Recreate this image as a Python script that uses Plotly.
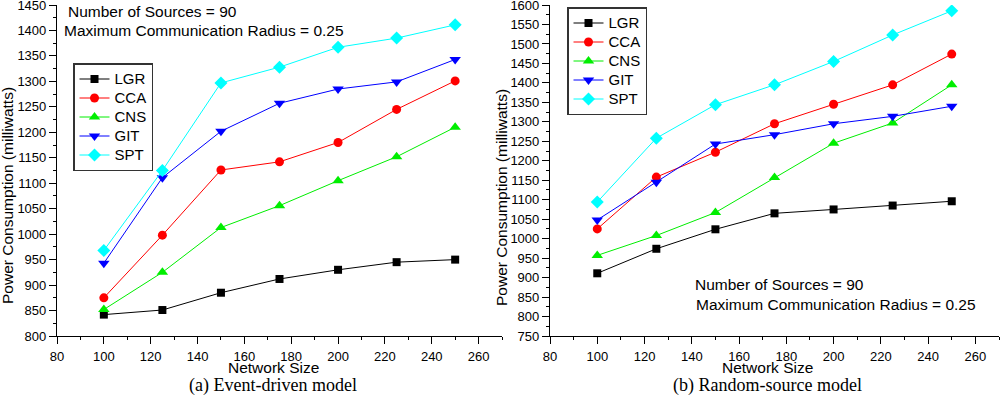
import plotly.graph_objects as go

network_size = [100, 125, 150, 175, 200, 225, 250]
series_names = ["LGR", "CCA", "CNS", "GIT", "SPT"]

# (a) Event-driven model
event_lgr = [842, 851, 885, 912, 930, 945, 950]
event_cca = [875, 998, 1126, 1142, 1180, 1245, 1301]
event_cns = [852, 925, 1013, 1056, 1105, 1152, 1210]
event_git = [943, 1111, 1202, 1257, 1285, 1299, 1343]
event_spt = [968, 1125, 1297, 1328, 1367, 1385, 1411]

# (b) Random-source model
random_lgr = [911, 974, 1024, 1065, 1075, 1085, 1096]
random_cca = [1025, 1158, 1222, 1295, 1345, 1395, 1474]
random_cns = [957, 1008, 1067, 1157, 1245, 1297, 1395]
random_git = [1048, 1145, 1243, 1267, 1295, 1314, 1340]
random_spt = [1094, 1258, 1344, 1395, 1455, 1523, 1585]

colors = ["#000000", "#FF0000", "#00EE00", "#0000FF", "#00FFFF"]
symbols = ["square", "circle", "triangle-up", "triangle-down", "diamond"]
sizes = [8, 9, 10, 10, 10]

W, H = 1000, 396
def px(x):
    return x / W
def py(y):
    return 1 - y / H

fig = go.Figure()

event = [event_lgr, event_cca, event_cns, event_git, event_spt]
rand = [random_lgr, random_cca, random_cns, random_git, random_spt]

def legend_label(name):
    return '<span style="font-size:15px">' + name + '</span>'

for i, name in enumerate(series_names):
    fig.add_trace(go.Scatter(
        x=network_size, y=event[i], name=legend_label(name), mode="lines+markers",
        line=dict(color=colors[i], width=1),
        marker=dict(symbol=symbols[i], size=sizes[i], color=colors[i], line=dict(width=0)),
        xaxis="x", yaxis="y", legend="legend"))
for i, name in enumerate(series_names):
    fig.add_trace(go.Scatter(
        x=network_size, y=rand[i], name=legend_label(name), mode="lines+markers",
        line=dict(color=colors[i], width=1),
        marker=dict(symbol=symbols[i], size=sizes[i], color=colors[i], line=dict(width=0)),
        xaxis="x2", yaxis="y2", legend="legend2"))

tickfont = dict(family="Liberation Sans, Arial, sans-serif", size=13, color="#000")
common_axis = dict(showgrid=False, zeroline=False, showline=True, linecolor="#000",
                   linewidth=1.2, ticks="outside", ticklen=7, tickwidth=1.2,
                   tickcolor="#000", tickfont=tickfont, mirror=False, automargin=False,
                   ticklabeloverflow="allow")

top_px, bottom_px = 5, 336
ydom = [py(bottom_px), py(top_px)]
minor = dict(ticks="outside", ticklen=3, tickcolor="#000", tickwidth=1)

legend_common = dict(xanchor="left", yanchor="top", bordercolor="#333", borderwidth=1.5,
                     bgcolor="white",
                     font=dict(family="Liberation Sans, Arial, sans-serif", size=12, color="#000"))

fig.update_layout(
    width=W, height=H, margin=dict(l=0, r=0, t=0, b=0),
    paper_bgcolor="white", plot_bgcolor="white",
    font=dict(family="Liberation Sans, Arial, sans-serif", color="#000"),
    xaxis=dict(domain=[px(57), px(502)], range=[80, 270], dtick=20, tick0=80,
               ticklabelstandoff=1, minor=dict(dtick=10, **minor), anchor="y", **common_axis),
    yaxis=dict(domain=ydom, range=[800, 1450], dtick=50, tick0=800,
               minor=dict(dtick=25, **minor), anchor="x", **common_axis),
    xaxis2=dict(domain=[px(550), px(999)], range=[80, 270], dtick=20, tick0=80,
                ticklabelstandoff=1, minor=dict(dtick=10, **minor), anchor="y2", **common_axis),
    yaxis2=dict(domain=ydom, range=[750, 1600], dtick=50, tick0=750,
                minor=dict(dtick=25, **minor), anchor="x2", **common_axis),
    legend=dict(x=px(73), y=py(63), **legend_common),
    legend2=dict(x=px(567), y=py(7), **legend_common),
)

sans = dict(family="Liberation Sans, Arial, sans-serif", size=15.5, color="#000")
serif = dict(family="Liberation Serif, Times New Roman, serif", size=18, color="#000")

def ann(text, x, y, font, xanchor="left", angle=0):
    fig.add_annotation(text=text, x=px(x), y=py(y), xref="paper", yref="paper",
                       xanchor=xanchor, yanchor="middle", showarrow=False,
                       font=font, textangle=angle)

ann("Number of Sources = 90", 66, 11, sans)
ann("Maximum Communication Radius = 0.25", 62, 30, sans)
ann("Number of Sources = 90", 693, 284, sans)
ann("Maximum Communication Radius = 0.25", 694, 304, sans)

ann("Network Size", 273, 367, sans, xanchor="center")
ann("Network Size", 767, 367, sans, xanchor="center")
ann("Power Consumption (milliwatts)", 7, 196, sans, xanchor="center", angle=-90)
ann("Power Consumption (milliwatts)", 501, 198, sans, xanchor="center", angle=-90)

ann("(a) Event-driven model", 273, 385, serif, xanchor="center")
ann("(b) Random-source model", 767, 385, serif, xanchor="center")

fig.write_html("out.html", config={"displayModeBar": False},
               post_script="document.body.style.margin='0';document.body.style.overflow='hidden';")
